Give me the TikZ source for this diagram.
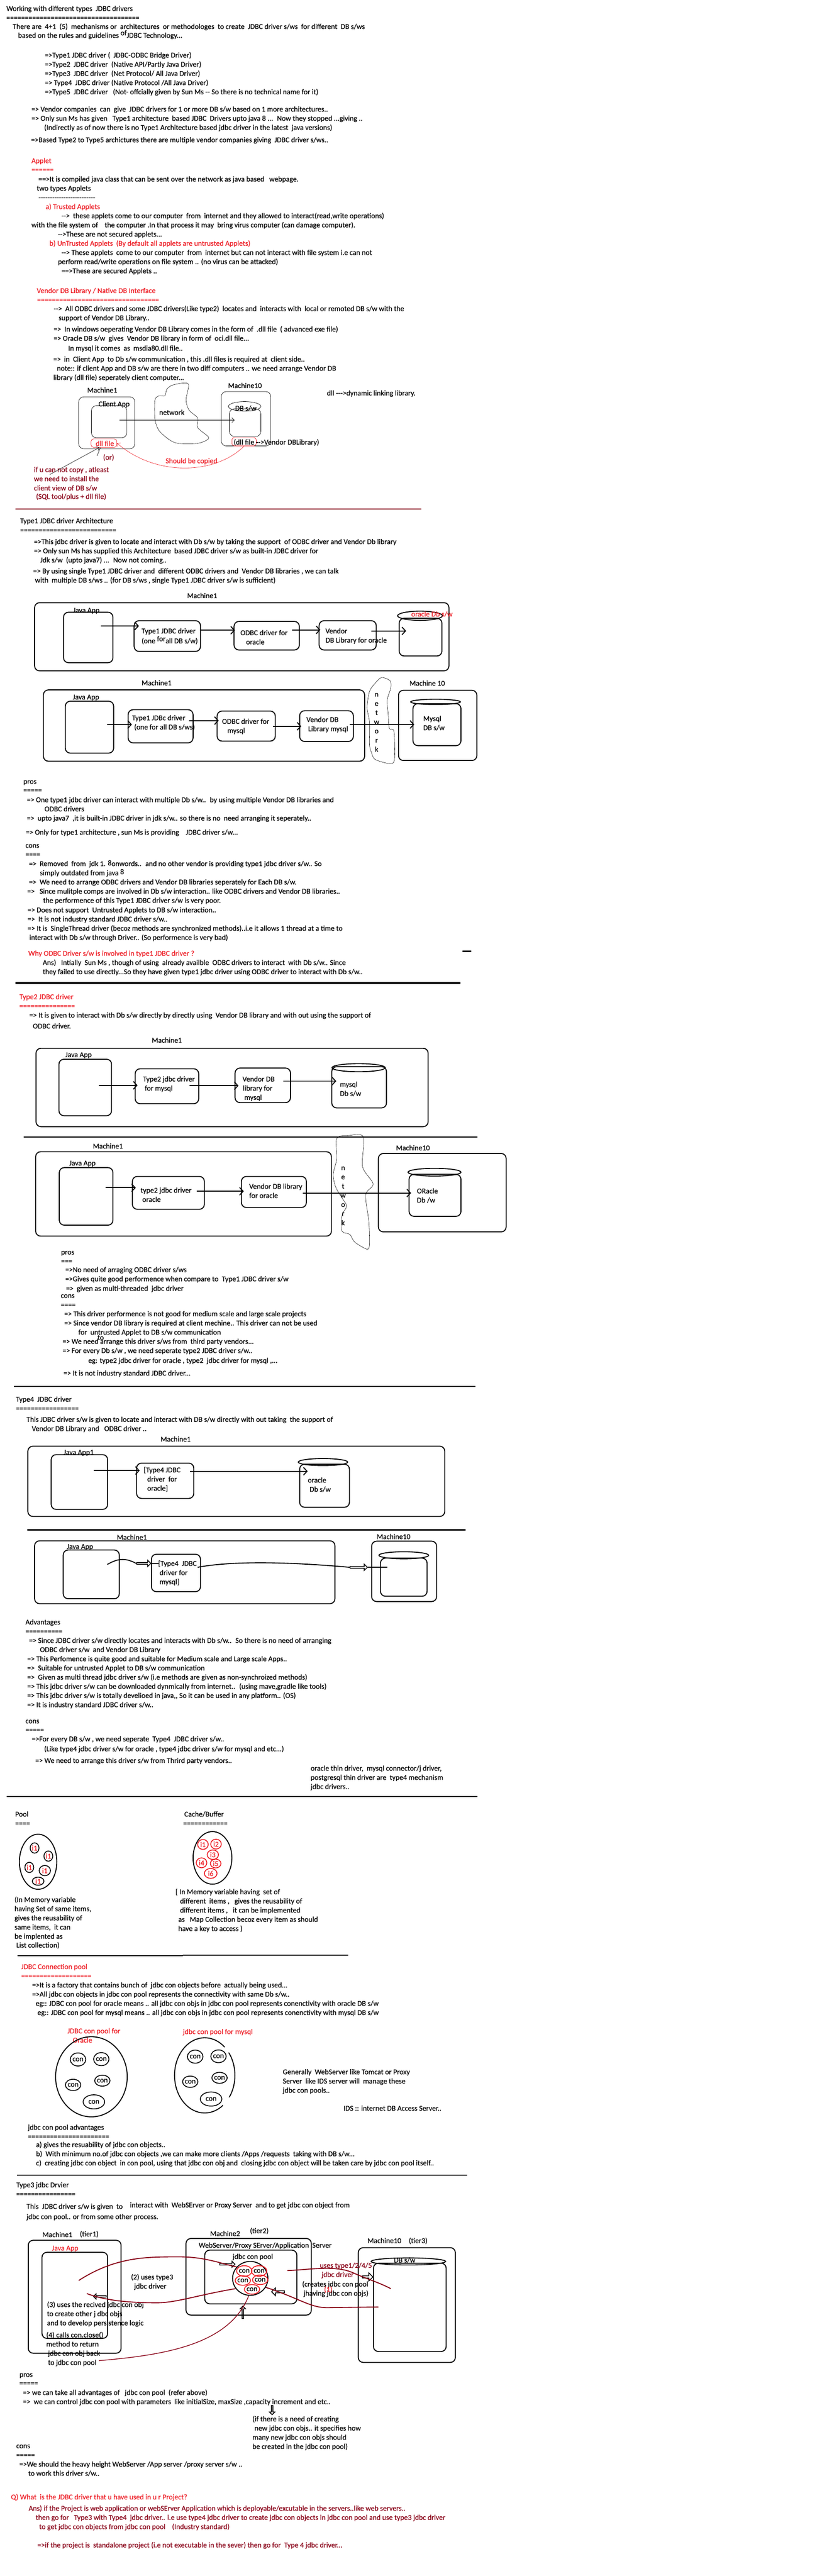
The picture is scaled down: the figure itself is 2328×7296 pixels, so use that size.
\documentclass[tikz,border=0pt]{standalone}
\usepackage{fontspec}
\setmainfont{Carlito}[Ligatures=TeXOff,FakeBold=0.3]
\usepackage{xcolor}
\usetikzlibrary{shapes.geometric, shapes.arrows, arrows.meta, fit}
\definecolor{pntred}{HTML}{ED1C24}
\definecolor{pntdark}{HTML}{880015}
\begin{document}
\begin{tikzpicture}[
        x=1pt, y=-1pt,
        txt/.style={anchor=base west, inner sep=0pt, font=\fontsize{21}{26}\selectfont},
        redtxt/.style={txt, text=pntred},
        darktxt/.style={txt, text=pntdark},
        vert/.style={txt, anchor=center, align=center},
        box/.style={rectangle, draw, rounded corners=14pt, line width=2.7pt, inner sep=0pt},
        thinbox/.style={box, line width=1pt},
        redbox/.style={box, line width=1pt, rounded corners=7pt, draw=pntred},
        dbtop/.style={ellipse, draw, line width=2.7pt, inner sep=0pt},
        item/.style={ellipse, draw, line width=2.4pt, inner sep=0pt, font=\fontsize{21}{26}\selectfont},
        reditem/.style={item, draw=pntred, text=pntred},
        conitem/.style={item, draw=pntred},
        blackitem/.style={item, text=pntred},
        cloud/.style={draw, line width=0.8pt},
        rule/.style={line width=3pt},
        arrow/.style={-{Straight Barb[length=10pt,width=22pt]}, line width=2.7pt},
        thinarrow/.style={-{Straight Barb[length=7pt,width=14pt]}, line width=0.9pt},
        curve/.style={line width=2.7pt},
        redcurve/.style={curve, draw=pntdark},
        hollow/.style={single arrow, draw, line width=2.2pt, inner sep=0pt, minimum width=18pt, minimum height=40pt, single arrow head extend=3pt}
    ]
        \useasboundingbox (0,0) rectangle (2328,7296);

        % intro
        \node[txt] (title) at (18,31) {Working with different types~ JDBC drivers};
        \node[txt] (titleul) at (18,57) {====================================};
        \node[txt] (intro1) at (36,82) {There are~ 4+1~ (5)~ mechanisms or~ architectures~ or methodologes~ to create~ JDBC driver s/ws~ for different~ DB s/ws};
        \node[txt] (intro2) at (51,107) {based on the rules and guidelines \raisebox{7pt}{of}JDBC Technology...};
        \node[txt] (kind1) at (127,163) {=>Type1 JDBC driver (~ JDBC-ODBC Bridge Driver)};
        \node[txt] (kind2) at (127,189) {=>Type2~ JDBC driver~ (Native API/Partly Java Driver)};
        \node[txt] (kind3) at (127,215) {=>Type3~ JDBC driver~ (Net Protocol/ All Java Driver)};
        \node[txt] (kind4) at (127,241) {=> Type4~ JDBC driver (Native Protocol /All Java Driver)};
        \node[txt] (kind5) at (127,267) {=>Type5~ JDBC driver~~ (Not- offcially given by Sun Ms -- So there is no technical name for it)};
        \node[txt] (vend1) at (89,316) {=> Vendor companies~ can~ give~ JDBC drivers for 1 or more DB s/w based on 1 more architectures..};
        \node[txt] (vend2) at (89,342) {=> Only sun Ms has given~~ Type1 architecture~ based JDBC~ Drivers upto java 8 ...~ Now they stopped ...giving ..};
        \node[txt] (vend3) at (125,368) {(Indirectly as of now there is no Type1 Architecture based jdbc driver in the latest~ java versions)};
        \node[txt] (vend4) at (88,403) {=>Based Type2 to Type5 archictures there are multiple vendor companies giving~ JDBC driver s/ws..};

        % applet
        \node[redtxt] (applet) at (89,462) {Applet};
        \node[redtxt] (appletul) at (89,488) {======};
        \node[txt] (app1) at (109,514) {==>It is compiled java class that can be sent over the network as java based~~ webpage.};
        \node[txt] (app2) at (104,540) {two types Applets};
        \node[txt] (app3) at (109,566) {-------------------------};
        \node[redtxt] (tru0) at (129,592) {a) Trusted Applets};
        \node[txt] (tru1) at (174,618) {--> ~these applets come to our computer~ from~ internet and they allowed to interact(read,write operations)};
        \node[txt] (tru2) at (89,644) {with the file system of~~~ the computer .In that process it may~ bring virus computer (can damage computer).};
        \node[txt] (tru3) at (164,670) {-->These are not secured applets...};
        \node[redtxt] (unt0) at (140,696) {b) UnTrusted Applets~ (By default all applets are untrusted Applets)};
        \node[txt] (unt1) at (174,722) {--> These applets~ come to our computer~ from~ internet but can not interact with file system i.e can not};
        \node[txt] (unt2) at (164,748) {perform read/write operations on file system .. (no virus can be attacked)};
        \node[txt] (unt3) at (174,774) {==>These are secured Applets ..};

        % vendor db library
        \node[redtxt] (lib) at (104,830) {Vendor DB Library / Native DB Interface};
        \node[redtxt] (libul) at (105,856) {=================================};
        \node[txt] (lib1) at (152,881) {--> ~All ODBC drivers and some JDBC drivers(Like type2)~ locates and~ interacts with~ local or remoted DB s/w with the};
        \node[txt] (lib2) at (166,907) {support of Vendor DB Library..};
        \node[txt] (lib3) at (152,939) {=>~ In windows oeperating Vendor DB Library comes in the form of~ .dll file~ ( advanced exe file)};
        \node[txt] (lib4) at (152,965) {=> Oracle DB s/w~ gives~ Vendor DB library in form of~ oci.dll file...};
        \node[txt] (lib5) at (193,993) {In mysql it comes~ as~ msdia80.dll file..};
        \node[txt] (lib6) at (151,1024) {=>~ in~ Client App~ to Db s/w communication , this .dll files is required at~ client side..};
        \node[txt] (lib7) at (161,1050) {note:: if client App and DB s/w are there in two diff computers .. we need arrange Vendor DB};
        \node[txt] (lib8) at (151,1076) {library (dll file) seperately client computer...};

        % client and db with dll
        \node[txt] (m1lab) at (247,1112) {Machine1};
        \node[thinbox, fit={(223,1124) (382,1271)}] (m1) {};
        \node[thinbox, fit={(259,1149) (359,1240)}] (capp) {};
        \node[txt] (capplab) at (279,1151) {Client App};
        \draw[cloud] plot[smooth cycle, tension=0.5] coordinates {(533,1087) (491,1090) (473,1102) (467,1121) (451,1121) (439,1133) (439,1187) (451,1220) (482,1247) (507,1256) (558,1256) (585,1247) (590,1237) (560,1211) (560,1184) (536,1162) (527,1133)};
        \node[txt] (netlab) at (451,1175) {network};
        \node[txt] (m10lab) at (646,1099) {Machine10};
        \node[thinbox, fit={(627,1109) (767,1263)}] (m10) {};
        \node[thinbox, fit={(650,1158) (739,1236)}] (db) {};
        \node[dbtop, line width=1pt, minimum width=92pt, minimum height=27pt] (dbt) at (693,1151) {};
        \node[txt] (dblab) at (666,1163) {DB s/w};
        \node[redbox, fit={(258,1243) (331,1267)}] (dll1) {};
        \node[redtxt] (dll1lab) at (271,1263) {dll file};
        \node[redbox, fit={(657,1239) (726,1263)}] (dll2) {};
        \node[txt] (dll2lab) at (662,1259) {(dll file -->Vendor DBLibrary)};
        \node[txt] (dllnote) at (926,1120) {dll --->dynamic linking library.};
        \coordinate (cappout) at (339,1190);
        \draw[thinarrow] (cappout) -- (cappout -| db.west) -- ++(15,0);
        \draw[thinarrow, draw=pntred] (dll2.south) .. controls (610,1345) and (440,1350) .. (dll1.east);
        \node[redtxt] (copied) at (469,1312) {Should be copied};
        \node[darktxt] (orlab) at (292,1302) {(or)};
        \node[darktxt] (inst1) at (96,1337) {if u can not copy , atleast};
        \node[darktxt] (inst2) at (96,1363) {we need to install the};
        \node[darktxt] (inst3) at (96,1389) {client view of DB s/w};
        \node[darktxt] (inst4) at (102,1413) {(SQL tool/plus + dll file)};
        \coordinate (instout) at (141,1344);
        \coordinate (orout) at (275,1291);
        \draw[thinarrow] (instout) -- (dll1.224);
        \draw[line width=0.9pt] (orout) -- (dll1.232);
        \draw[rule, draw=pntdark] (44,1441) -- (1193,1441);

        % type1
        \node[txt] (ty1) at (57,1482) {Type1 JDBC driver Architecture};
        \node[txt] (ty1ul) at (57,1508) {==========================};
        \node[txt] (ty1a) at (96,1541) {=>This jdbc driver is given to locate and interact with Db s/w by taking the support~ of ODBC driver and Vendor Db library};
        \node[txt] (ty1b) at (96,1567) {=> Only sun Ms has supplied this Architecture~ based JDBC driver s/w as built-in JDBC driver for};
        \node[txt] (ty1c) at (114,1593) {Jdk s/w~ (upto java7) ...~ Now not coming..};
        \node[txt] (ty1d) at (94,1624) {=> By using single Type1 JDBC driver and~ different ODBC drivers and~ Vendor DB libraries , we can talk};
        \node[txt] (ty1e) at (99,1650) {with~ multiple DB s/ws .. (for DB s/ws , single Type1 JDBC driver s/w is sufficient)};

        \node[txt] (a1lab) at (530,1694) {Machine1};
        \node[box, fit={(98,1707) (1272,1900)}] (a1) {};
        \node[box, fit={(180,1734) (320,1877)}] (a1app) {};
        \node[txt] (a1applab) at (207,1735) {Java App};
        \node[box, fit={(380,1758) (568,1845)}] (a1drv) {};
        \node[txt] (a1drv1) at (401,1794) {Type1 JDBC driver};
        \node[txt] (a1drv2) at (401,1822) {(one \raisebox{6pt}{for}all DB s/w)};
        \node[box, fit={(663,1760) (848,1841)}] (a1odbc) {};
        \node[txt] (a1odbc1) at (681,1799) {ODBC driver for};
        \node[txt] (a1odbc2) at (697,1825) {oracle};
        \node[box, fit={(904,1758) (1066,1841)}] (a1ven) {};
        \node[txt] (a1ven1) at (922,1794) {Vendor};
        \node[txt] (a1ven2) at (922,1820) {DB Library for oracle};
        \node[box, fit={(1131,1751) (1252,1858)}] (a1db) {};
        \node[dbtop, minimum width=127pt, minimum height=26pt] (a1top) at (1190,1744) {};
        \node[redtxt] (a1dblab) at (1165,1746) {oracle Db s/w};
        \coordinate (a1s1) at (286,1773);
        \coordinate (a1s2) at (569,1785);
        \coordinate (a1s3) at (827,1784);
        \coordinate (a1s4) at (1052,1787);
        \draw[arrow, shorten >=-15pt] (a1s1) -- (a1s1 -| a1drv.west);
        \draw[arrow, shorten >=-4pt] (a1s2) -- (a1s2 -| a1odbc.west);
        \draw[arrow, shorten >=-5pt] (a1s3) -- (a1s3 -| a1ven.west);
        \draw[arrow, shorten >=-21pt] (a1s4) -- (a1s4 -| a1db.west);

        \node[txt] (b1lab) at (401,1941) {Machine1};
        \node[box, fit={(123,1954) (1033,2156)}] (b1) {};
        \node[box, fit={(185,1986) (322,2133)}] (b1app) {};
        \node[txt] (b1applab) at (206,1981) {Java App};
        \node[box, fit={(363,2010) (547,2104)}] (b1drv) {};
        \node[txt] (b1drv1) at (374,2040) {Type1 JDBc driver};
        \node[txt] (b1drv2) at (380,2066) {(one for all DB s/ws)};
        \node[box, fit={(615,2014) (780,2099)}] (b1odbc) {};
        \node[txt] (b1odbc1) at (629,2050) {ODBC driver for};
        \node[txt] (b1odbc2) at (644,2076) {mysql};
        \node[box, fit={(849,2013) (1001,2100)}] (b1ven) {};
        \node[txt] (b1ven1) at (868,2045) {Vendor DB};
        \node[txt] (b1ven2) at (873,2071) {Library mysql};
        \draw[cloud] plot[smooth cycle, tension=0.5] coordinates {(1081,1919) (1063,1935) (1047,1958) (1040,2004) (1047,2046) (1047,2109) (1052,2130) (1063,2151) (1107,2163) (1118,2147) (1116,2071) (1103,2063) (1100,2025) (1097,1983) (1107,1949) (1105,1928)};
        \node[vert] (b1net) at (1067,2046) {n\\e\\t\\w\\o\\r\\k};
        \node[txt] (b10lab) at (1160,1942) {Machine 10};
        \node[box, fit={(1129,1955) (1351,2154)}] (b10) {};
        \node[box, fit={(1170,1993) (1306,2112)}] (b1db) {};
        \node[dbtop, minimum width=141pt, minimum height=15pt] (b1top) at (1234,1988) {};
        \node[txt] (b1db1) at (1199,2042) {Mysql};
        \node[txt] (b1db2) at (1199,2068) {DB s/w};
        \coordinate (b1s1) at (304,2052);
        \coordinate (b1s2) at (536,2041);
        \coordinate (b1s3) at (774,2057);
        \coordinate (b1s4) at (991,2052);
        \draw[arrow, shorten >=-12pt] (b1s1) -- (b1s1 -| b1drv.west);
        \draw[arrow, shorten >=-6pt] (b1s2) -- (b1s2 -| b1odbc.west);
        \draw[arrow, shorten >=-6pt] (b1s3) -- (b1s3 -| b1ven.west);
        \draw[arrow, shorten >=-5pt] (b1s4) -- (b1s4 -| b1db.west);

        \node[txt] (pro1) at (66,2220) {pros};
        \node[txt] (pro1ul) at (66,2245) {=====};
        \node[txt] (pro1a) at (76,2272) {=> One type1 jdbc driver can interact with multiple Db s/w..~ by using multiple Vendor DB libraries and};
        \node[txt] (pro1b) at (126,2298) {ODBC drivers};
        \node[txt] (pro1c) at (76,2324) {=>~ upto java7~ ,it is built-in JDBC driver in jdk s/w.. so there is no~ need arranging it seperately..};
        \node[txt] (pro1d) at (73,2364) {=> Only for type1 architecture , sun Ms is providing~~~ JDBC driver s/w...};
        \node[txt] (con1) at (72,2401) {cons};
        \node[txt] (con1ul) at (72,2427) {====};
        \node[txt] (con1a) at (82,2453) {=>~ Removed~ from~ jdk 1. \raisebox{2pt}{8}onwords..~ and no other vendor is providing type1 jdbc driver s/w.. So};
        \node[txt] (con1b) at (113,2479) {simply outdated from java \raisebox{3pt}{8}};
        \node[txt] (con1c) at (82,2505) {=>~ We need to arrange ODBC drivers and Vendor DB libraries seperately for Each DB s/w.};
        \node[txt] (con1d) at (77,2531) {=>~~ Since mulitple comps are involved in Db s/w interaction.. like ODBC drivers and Vendor DB libraries..};
        \node[txt] (con1e) at (122,2557) {the performence of this Type1 JDBC driver s/w is very poor.};
        \node[txt] (con1f) at (78,2584) {=> Does not support~ Untrusted Applets to DB s/w interaction..};
        \node[txt] (con1g) at (78,2610) {=>~ It is not industry standard JDBC driver s/w..};
        \node[txt] (con1h) at (78,2636) {=> It is~ SingleThread driver (becoz methods are synchronized methods)..i.e it allows 1 thread at a time to};
        \node[txt] (con1i) at (83,2662) {interact with Db s/w through Driver.. (So performence is very bad)};
        \node[redtxt] (why) at (80,2707) {Why ODBC Driver s/w is involved in type1 JDBC driver ?};
        \node[txt] (ans1) at (121,2733) {Ans)~~ Intially~ Sun Ms , though of using~ already availble~ ODBC drivers to interact~ with Db s/w.. Since};
        \node[txt] (ans2) at (121,2759) {they failed to use directly...So they have given type1 jdbc driver using ODBC driver to interact with Db s/w..};
        \draw[line width=4pt] (1311,2694) -- (1335,2694);
        \draw[line width=5pt] (44,2784) -- (1304,2784);

        % type2
        \node[redtxt] (ty2) at (55,2830) {Type2 JDBC driver};
        \node[redtxt] (ty2ul) at (55,2856) {===============};
        \node[txt] (ty2a) at (83,2882) {=> It is given to interact with Db s/w directly by directly using~ Vendor DB library and with out using the support of};
        \node[txt] (ty2b) at (93,2913) {ODBC driver.};

        \node[txt] (c1lab) at (430,2953) {Machine1};
        \node[box, fit={(102,2969) (1213,3191)}] (c1) {};
        \node[txt] (c1applab) at (185,2994) {Java App};
        \node[box, fit={(167,3000) (316,3160)}] (c1app) {};
        \node[box, fit={(383,3027) (563,3126)}] (c1drv) {};
        \node[txt] (c1drv1) at (405,3063) {Type2 jdbc driver};
        \node[txt] (c1drv2) at (410,3089) {for mysql};
        \node[box, fit={(666,3025) (823,3123)}] (c1ven) {};
        \node[txt] (c1ven1) at (687,3063) {Vendor DB};
        \node[txt] (c1ven2) at (688,3089) {library for};
        \node[txt] (c1ven3) at (692,3115) {mysql};
        \node[box, fit={(940,3021) (1095,3138)}] (c1db) {};
        \node[dbtop, minimum width=151pt, minimum height=23pt] (c1top) at (1016,3024) {};
        \node[txt] (c1db1) at (963,3078) {mysql};
        \node[txt] (c1db2) at (963,3104) {Db s/w};
        \coordinate (c1s1) at (280,3074);
        \coordinate (c1s2) at (537,3075);
        \coordinate (c1s3) at (803,3062);
        \draw[arrow, shorten >=-8pt] (c1s1) -- (c1s1 -| c1drv.west);
        \draw[arrow, shorten >=-11pt] (c1s2) -- (c1s2 -| c1ven.west);
        \draw[arrow, shorten >=-14pt] (c1s3) -- (c1s3 -| c1db.west);
        \draw[rule] (67,3220) -- (1352,3220);

        \node[txt] (d1lab) at (263,3253) {Machine1};
        \node[box, fit={(101,3262) (939,3501)}] (d1) {};
        \node[txt] (d1applab) at (196,3301) {Java App};
        \node[box, fit={(168,3307) (320,3470)}] (d1app) {};
        \node[box, fit={(375,3332) (579,3425)}] (d1drv) {};
        \node[txt] (d1drv1) at (398,3378) {type2 jdbc driver};
        \node[txt] (d1drv2) at (403,3404) {oracle};
        \node[box, fit={(684,3332) (868,3420)}] (d1ven) {};
        \node[txt] (d1ven1) at (706,3367) {Vendor DB library};
        \node[txt] (d1ven2) at (706,3393) {for oracle};
        \draw[cloud] plot[smooth cycle, tension=0.5] coordinates {(982,3217) (960,3219) (952,3233) (954,3282) (944,3326) (951,3362) (969,3393) (982,3416) (969,3442) (969,3487) (991,3496) (1005,3518) (1040,3538) (1047,3523) (1045,3460) (1036,3384) (1057,3353) (1027,3304) (1029,3219)};
        \node[vert] (d1net) at (972,3387) {n\\e\\t\\w\\o\\r\\k};
        \node[txt] (d10lab) at (1122,3258) {Machine10};
        \node[box, fit={(1072,3267) (1434,3489)}] (d10) {};
        \node[box, fit={(1159,3326) (1306,3445)}] (d1db) {};
        \node[dbtop, minimum width=150pt, minimum height=22pt] (d1top) at (1231,3320) {};
        \node[txt] (d1db1) at (1181,3380) {ORacle};
        \node[txt] (d1db2) at (1181,3406) {Db /w};
        \coordinate (d1s1) at (299,3364);
        \coordinate (d1s2) at (558,3374);
        \coordinate (d1s3) at (858,3379);
        \draw[arrow, shorten >=-11pt] (d1s1) -- (d1s1 -| d1drv.west);
        \draw[arrow, shorten >=-8pt] (d1s2) -- (d1s2 -| d1ven.west);
        \draw[arrow, shorten >=-7pt] (d1s3) -- (d1s3 -| d1db.west);

        \node[txt] (pro2) at (173,3553) {pros};
        \node[txt] (pro2ul) at (173,3579) {===};
        \node[txt] (pro2a) at (185,3603) {=>No need of arraging ODBC driver s/ws};
        \node[txt] (pro2b) at (185,3629) {=>Gives quite good performence when compare to~ Type1 JDBC driver s/w};
        \node[txt] (pro2c) at (187,3656) {=>~ given as multi-threaded~ jdbc driver};
        \node[txt] (con2) at (172,3676) {cons};
        \node[txt] (con2ul) at (172,3702) {====};
        \node[txt] (con2a) at (182,3728) {=> This driver performence is not good for medium scale and large scale projects};
        \node[txt] (con2b) at (182,3754) {=> Since vendor DB library is required at client mechine.. This driver can not be used};
        \node[txt] (con2c) at (222,3780) {for~ untrusted Applet to DB s/w communication};
        \node[txt] (con2to) at (276,3795) {to};
        \node[txt] (con2d) at (177,3806) {=> We need arrange this driver s/ws from~ third party vendors...};
        \node[txt] (con2e) at (177,3832) {=> For every Db s/w , we need seperate type2 JDBC driver s/w..};
        \node[txt] (con2f) at (250,3860) {eg: type2 jdbc driver for oracle , type2~ jdbc driver for mysql ,...};
        \node[txt] (con2g) at (180,3896) {=> It is not industry standard JDBC driver...};
        \draw[rule] (40,3927) -- (1347,3927);

        % type4
        \node[txt] (ty4) at (45,3970) {Type4~ JDBC driver};
        \node[txt] (ty4ul) at (45,3996) {=================};
        \node[txt] (ty4a) at (75,4027) {This JDBC driver s/w is given to locate and interact with DB s/w directly with out taking~ the support of};
        \node[txt] (ty4b) at (90,4053) {Vendor DB Library and~~ ODBC driver ..};

        \node[txt] (e1lab) at (455,4083) {Machine1};
        \node[box, fit={(79,4096) (1260,4295)}] (e1) {};
        \node[txt] (e1applab) at (180,4120) {Java App1};
        \node[box, fit={(145,4120) (305,4275)}] (e1app) {};
        \node[box, fit={(387,4144) (549,4244)}] (e1drv) {};
        \node[txt] (e1drv1) at (407,4170) {[Type4 JDBC};
        \node[txt] (e1drv2) at (417,4196) {driver~ for};
        \node[txt] (e1drv3) at (417,4222) {oracle]};
        \node[box, fit={(849,4147) (990,4269)}] (e1db) {};
        \node[dbtop, minimum width=140pt, minimum height=20pt] (e1top) at (915,4141) {};
        \node[txt] (e1db1) at (872,4199) {oracle};
        \node[txt] (e1db2) at (877,4225) {Db s/w};
        \coordinate (e1s1) at (265,4165);
        \coordinate (e1s2) at (539,4167);
        \draw[arrow, shorten >=-10pt] (e1s1) -- (e1s1 -| e1drv.west);
        \draw[arrow, shorten >=-24pt] (e1s2) -- (e1s2 -| e1db.west);
        \draw[rule] (78,4333) -- (1319,4333);

        \node[txt] (f1lab) at (331,4361) {Machine1};
        \node[box, fit={(98,4364) (949,4542)}] (f1) {};
        \node[txt] (f1applab) at (189,4387) {Java App};
        \node[box, fit={(179,4390) (338,4528)}] (f1app) {};
        \node[box, fit={(429,4402) (568,4508)}] (f1drv) {};
        \node[txt] (f1drv1) at (448,4435) {[Type4~ JDBC};
        \node[txt] (f1drv2) at (452,4461) {driver for};
        \node[txt] (f1drv3) at (452,4487) {mysql]};
        \node[txt] (f10lab) at (1067,4359) {Machine10};
        \node[box, fit={(1053,4365) (1237,4536)}] (f10) {};
        \node[box, fit={(1078,4413) (1210,4521)}] (f1db) {};
        \node[dbtop, minimum width=141pt, minimum height=20pt] (f1top) at (1144,4405) {};
        \node[hollow] (f1h1) at (406,4428) {};
        \node[hollow, minimum height=49pt] (f1h2) at (1015,4439) {};
        \coordinate (f1s1) at (304,4431);
        \coordinate (f1s2) at (560,4439);
        \coordinate (f1e1) at (449,4428);
        \coordinate (f1e2) at (1097,4439);
        \draw[curve] (f1s1) .. controls (340,4410) and (360,4415) .. (f1h1.tail);
        \draw[curve] (f1h1.tip) -- (f1e1);
        \draw[curve] (f1s2) .. controls (650,4422) and (800,4422) .. (f1h2.tail);
        \draw[curve] (f1h2.tip) -- (f1e2);

        \node[txt] (adv) at (72,4601) {Advantages};
        \node[txt] (advul) at (72,4627) {==========};
        \node[txt] (adva) at (82,4653) {=> Since JDBC driver s/w directly locates and interacts with Db s/w..~ So there is no need of arranging};
        \node[txt] (advb) at (113,4679) {ODBC driver s/w~ and Vendor DB Library};
        \node[txt] (advc) at (77,4705) {=> This Perfomence is quite good and suitable for Medium scale and Large scale Apps..};
        \node[txt] (advd) at (77,4731) {=>~ Suitable for untrusted Applet to DB s/w communication};
        \node[txt] (adve) at (77,4757) {=>~ Given as multi thread jdbc driver s/w (i.e methods are given as non-synchroized methods)};
        \node[txt] (advf) at (77,4783) {=> This jdbc driver s/w can be downloaded dynmically from internet..~ (using mave,gradle like tools)};
        \node[txt] (advg) at (77,4809) {=> This jdbc driver s/w is totally develioed in java,, So it can be used in any platform.. (OS)};
        \node[txt] (advh) at (77,4835) {=> It is industry standard JDBC driver s/w..};
        \node[txt] (con4) at (72,4881) {cons};
        \node[txt] (con4ul) at (72,4906) {=====};
        \node[txt] (con4a) at (90,4932) {=>For every DB s/w , we need seperate~ Type4~ JDBC driver s/w..};
        \node[txt] (con4b) at (125,4960) {(Like type4 jdbc driver s/w for oracle , type4 jdbc driver s/w for mysql and etc...)};
        \node[txt] (con4c) at (100,4993) {=> We need to arrange this driver s/w from Thrird party vendors..};
        \node[txt] (thin1) at (880,5015) {oracle thin driver,~ mysql connector/j driver,};
        \node[txt] (thin2) at (880,5041) {postgresql thin driver are~ type4 mechanism};
        \node[txt] (thin3) at (880,5067) {jdbc drivers..};
        \draw[rule] (19,5088) -- (1352,5088);

        % pool and cache
        \node[txt] (pool) at (43,5145) {Pool};
        \node[txt] (poolul) at (43,5171) {====};
        \node[txt] (cache) at (522,5145) {Cache/Buffer};
        \node[txt] (cacheul) at (519,5171) {============};
        \node[dbtop, minimum width=106pt, minimum height=156pt] (poolov) at (108,5273) {};
        \node[blackitem, minimum width=25pt, minimum height=29pt] (pi1) at (98,5234) {i1};
        \node[blackitem, minimum width=25pt, minimum height=29pt] (pi2) at (137,5257) {i1};
        \node[blackitem, minimum width=25pt, minimum height=29pt] (pi3) at (83,5289) {i1};
        \node[blackitem, minimum width=32pt, minimum height=29pt] (pi4) at (127,5298) {i1};
        \node[blackitem, minimum width=33pt, minimum height=23pt] (pi5) at (108,5328) {i1};
        \node[dbtop, minimum width=110pt, minimum height=149pt] (cacheov) at (602,5262) {};
        \node[reditem, minimum width=30pt, minimum height=28pt] (ci1) at (575,5224) {i1};
        \node[reditem, minimum width=30pt, minimum height=28pt] (ci2) at (612,5223) {i2};
        \node[reditem, minimum width=32pt, minimum height=27pt] (ci3) at (603,5253) {i3};
        \node[reditem, minimum width=30pt, minimum height=28pt] (ci4) at (571,5276) {i4};
        \node[reditem, minimum width=30pt, minimum height=25pt] (ci5) at (611,5278) {i5};
        \node[reditem, minimum width=36pt, minimum height=28pt] (ci6) at (597,5306) {i6};
        \node[txt] (cm1) at (497,5365) {[ In Memory variable having~ set of};
        \node[txt] (cm2) at (510,5391) {different~ items ,~~ gives the reusability of};
        \node[txt] (cm3) at (510,5417) {different items ,~~ it can be implemented};
        \node[txt] (cm4) at (505,5443) {as~~ Map Collection becoz every item as should};
        \node[txt] (cm5) at (505,5469) {have a key to access )};
        \node[txt] (pm1) at (41,5387) {(In Memory variable};
        \node[txt] (pm2) at (41,5413) {having Set of same items,};
        \node[txt] (pm3) at (41,5439) {gives the reusability of};
        \node[txt] (pm4) at (41,5465) {same items,~ it can};
        \node[txt] (pm5) at (41,5491) {be implented as};
        \node[txt] (pm6) at (46,5516) {List collection)};
        \draw[rule] (49,5539) -- (518,5539);
        \draw[rule] (518,5538) -- (987,5538);

        % connection pool
        \node[redtxt] (cp) at (60,5577) {JDBC Connection pool};
        \node[redtxt] (cpul) at (60,5603) {===================};
        \node[txt] (cpa) at (91,5629) {=>It is a factory that contains bunch of~ jdbc con objects before~ actually being used...};
        \node[txt] (cpb) at (91,5655) {=>All jdbc con objects in jdbc con pool represents the connectivity with same Db s/w..};
        \node[txt] (cpc) at (101,5681) {eg:: JDBC con pool for oracle means .. all jdbc con objs in jdbc con pool represents conenctivity with oracle DB s/w};
        \node[txt] (cpd) at (106,5707) {eg:: JDBC con pool for mysql means .. all jdbc con objs in jdbc con pool represents conenctivity with mysql DB s/w};
        \node[redtxt] (po1) at (191,5759) {JDBC con pool for};
        \node[redtxt] (po2) at (206,5785) {Oracle};
        \node[redtxt] (po3) at (518,5761) {jdbc con pool for mysql};
        \node[dbtop, minimum width=203pt, minimum height=227pt] (ora) at (259,5882) {};
        \node[item, minimum width=44pt, minimum height=37pt] (oc1) at (221,5833) {con};
        \node[item, minimum width=39pt, minimum height=37pt] (oc2) at (287,5832) {con};
        \node[item, minimum width=39pt, minimum height=31pt] (oc3) at (290,5893) {con};
        \node[item, minimum width=41pt, minimum height=32pt] (oc4) at (207,5905) {con};
        \node[item, minimum width=61pt, minimum height=40pt] (oc5) at (266,5953) {con};
        \node[dbtop, minimum width=171pt, minimum height=213pt] (my) at (580,5878) {};
        \fill[white] (636,5798) rectangle (652,5814);
        \fill[white] (632,5941) rectangle (658,5968);
        \node[item, minimum width=44pt, minimum height=37pt] (mc1) at (553,5825) {con};
        \node[item, minimum width=39pt, minimum height=36pt] (mc2) at (619,5824) {con};
        \node[item, minimum width=39pt, minimum height=31pt] (mc3) at (622,5885) {con};
        \node[item, minimum width=41pt, minimum height=32pt] (mc4) at (539,5896) {con};
        \node[item, minimum width=61pt, minimum height=40pt] (mc5) at (598,5945) {con};
        \node[txt] (gen1) at (801,5875) {Generally~ WebServer like Tomcat or Proxy};
        \node[txt] (gen2) at (801,5901) {Server~ like IDS server will~ manage these};
        \node[txt] (gen3) at (801,5927) {jdbc con pools..};
        \node[txt] (ids) at (973,5978) {IDS :: internet DB Access Server..};
        \node[txt] (cpadv) at (79,6032) {jdbc con pool advantages};
        \node[txt] (cpadvul) at (79,6058) {======================};
        \node[txt] (cpadv1) at (102,6081) {a) gives the resuability of jdbc con objects..};
        \node[txt] (cpadv2) at (102,6107) {b)~ With minimum no.of jdbc con objects ,we can make more clients /Apps /requests~ taking with DB s/w...};
        \node[txt] (cpadv3) at (102,6133) {c)~ creating jdbc con object~ in con pool, using that jdbc con obj and~ closing jdbc con object will be taken care by jdbc con pool itself..};
        \draw[rule] (48,6161) -- (1323,6161);

        % type3
        \node[txt] (ty3) at (46,6195) {Type3 jdbc Drvier};
        \node[txt] (ty3ul) at (46,6221) {================};
        \node[txt] (ty3a) at (75,6256) {This~ JDBC driver s/w is given~ to};
        \node[txt] (ty3b) at (368,6252) {interact with~ WebSErver or Proxy Server~ and to get jdbc con object from};
        \node[txt] (ty3c) at (75,6285) {jdbc con pool.. or from some other process.};

        \node[txt] (g1lab) at (120,6336) {Machine1};
        \node[txt] (g1tier) at (226,6334) {(tier1)};
        \node[txt] (g2lab) at (595,6333) {Machine2};
        \node[txt] (g2tier) at (708,6325) {(tier2)};
        \node[txt] (g10lab) at (1041,6353) {Machine10};
        \node[txt] (g10tier) at (1158,6353) {(tier3)};
        \node[box, fit={(80,6345) (343,6665)}] (g1) {};
        \node[redtxt] (g1applab) at (147,6374) {Java App};
        \node[box, fit={(119,6379) (305,6623)}] (g1app) {};
        \node[box, fit={(527,6340) (882,6557)}] (g2) {};
        \node[txt] (g2lab2) at (563,6366) {WebServer/Proxy SErver/Application~ Server};
        \node[box, fit={(580,6373) (841,6525)}] (g2box) {};
        \node[txt] (g2pool) at (659,6398) {jdbc con pool};
        \node[dbtop, minimum width=100pt, minimum height=96pt] (g2ov) at (709,6453) {};
        \node[conitem, minimum width=38pt, minimum height=30pt] (gc1) at (692,6432) {con};
        \node[conitem, minimum width=38pt, minimum height=30pt] (gc2) at (734,6432) {con};
        \node[conitem, minimum width=38pt, minimum height=27pt] (gc3) at (688,6459) {con};
        \node[conitem, minimum width=40pt, minimum height=27pt] (gc4) at (737,6457) {con};
        \node[conitem, minimum width=39pt, minimum height=27pt] (gc5) at (714,6484) {con};
        \node[txt] (t3use1) at (371,6456) {(2) uses type3};
        \node[txt] (t3use2) at (380,6482) {jdbc driver};
        \node[box, fit={(1015,6366) (1290,6691)}] (g10) {};
        \node[box, fit={(1058,6410) (1264,6660)}] (g10db) {};
        \node[dbtop, minimum width=211pt, minimum height=20pt] (g10top) at (1157,6405) {};
        \node[txt] (g10dblab) at (1116,6408) {DB s/w};
        \node[darktxt] (t1use1) at (906,6423) {uses type1/2/4/5};
        \node[darktxt] (t1use2) at (911,6449) {jdbc driver};
        \node[txt] (t1use3) at (856,6476) {(creates jdbc con pool};
        \node[txt] (t1use4) at (860,6502) {jhaving jdbc con objs)};
        \node[redtxt] (t1num) at (918,6491) {(1)};
        \node[txt] (t4a) at (133,6534) {(3) uses the recived jdbc con obj};
        \node[txt] (t4b) at (133,6560) {to create other j dbc objs};
        \node[txt] (t4c) at (133,6586) {and to develop persistence logic};
        \node[txt] (t4d) at (131,6620) {(4) calls con.close()};
        \node[txt] (t4e) at (131,6646) {method to return};
        \node[txt] (t4f) at (136,6672) {jdbc con obj back};
        \node[txt] (t4g) at (136,6698) {to jdbc con pool};
        \node[hollow, minimum height=43pt, minimum width=17pt] (gh1) at (643,6413) {};
        \node[hollow, minimum height=36pt, minimum width=15pt, rotate=180] (gh2) at (284,6504) {};
        \node[hollow, minimum height=30pt, minimum width=23pt] (gh3) at (1040,6449) {};
        \node[hollow, minimum height=36pt, minimum width=22pt, rotate=180] (gh4) at (789,6491) {};
        \node[hollow, minimum height=35pt, minimum width=15pt, rotate=90] (gh5) at (688,6550) {};
        \coordinate (g1s) at (223,6459);
        \coordinate (g2e) at (246,6496);
        \coordinate (g3s) at (814,6431);
        \coordinate (g3e) at (1107,6482);
        \coordinate (g4s) at (1072,6534);
        \coordinate (g4m) at (929,6536);
        \coordinate (g5s) at (280,6686);
        \draw[redcurve] (g1s) .. controls (330,6390) and (420,6392) .. (510,6392) .. controls (580,6392) and (630,6412) .. (g2ov.140);
        \draw[redcurve] (g2ov.215) .. controls (560,6500) and (500,6522) .. (446,6522) .. controls (390,6522) and (310,6520) .. (g2e);
        \draw[redcurve] (g3s) .. controls (880,6428) and (950,6415) .. (1000,6437) .. controls (1040,6455) and (1075,6465) .. (g3e);
        \draw[redcurve] (g4s) -- (g4m) .. controls (880,6537) and (850,6510) .. (g2ov.330);
        \draw[redcurve, line width=2pt] (g5s) .. controls (470,6670) and (650,6640) .. (g2ov.265);

        \node[txt] (pro3) at (55,6732) {pros};
        \node[txt] (pro3ul) at (55,6757) {=====};
        \node[txt] (pro3a) at (65,6783) {=> we can take all advantages of~~ jdbc con pool~ (refer above)};
        \node[txt] (pro3b) at (65,6809) {=>~ we can control jdbc con pool with parameters~ like initialSize, maxSize ,capacity increment and etc..};
        \node[hollow, minimum height=26pt, minimum width=15pt, rotate=-90] (gh6) at (771,6825) {};
        \node[txt] (newa) at (715,6858) {(if there is a need of creating};
        \node[txt] (newb) at (721,6884) {new jdbc con objs.. it specifies how};
        \node[txt] (newc) at (715,6910) {many new jdbc con objs should};
        \node[txt] (newd) at (715,6936) {be created in the jdbc con pool)};
        \node[txt] (con3) at (46,6934) {cons};
        \node[txt] (con3ul) at (46,6960) {=====};
        \node[txt] (con3a) at (55,6986) {=>We should the heavy height WebServer /App server /proxy server s/w ..};
        \node[txt] (con3b) at (80,7012) {to work this driver s/w..};

        % question
        \node[redtxt] (q) at (31,7079) {Q) What~ is the JDBC driver that u have used in u r Project?};
        \node[darktxt] (qa) at (81,7111) {Ans) if the Project is web application or webSErver Application which is deployable/excutable in the servers..like web servers..};
        \node[darktxt] (qb) at (101,7137) {then go for~~ Type3 with Type4~ jdbc driver.. i.e use type4 jdbc driver to create jdbc con objects in jdbc con pool and use type3 jdbc driver};
        \node[darktxt] (qc) at (111,7163) {to get jdbc con objects from jdbc con pool~~~ (Industry standard)};
        \node[darktxt] (qd) at (106,7215) {=>if the project is~ standalone project (i.e not executable in the sever) then go for~ Type 4 jdbc driver...};
    \end{tikzpicture}
\end{document}
